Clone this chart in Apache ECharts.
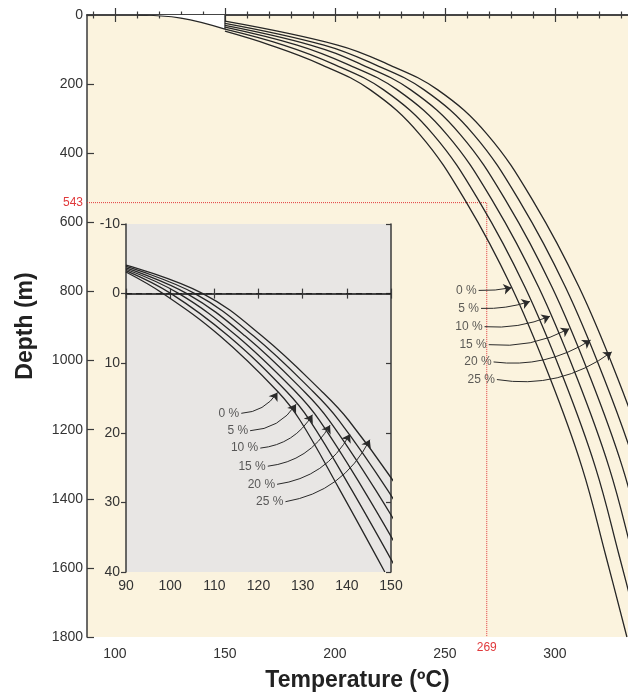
<!DOCTYPE html>
<html>
<head>
<meta charset="utf-8">
<script src="https://cdn.jsdelivr.net/npm/echarts@6/dist/echarts.min.js"></script>
<style>
  html, body { margin: 0; padding: 0; background: #fff; }
  #chart { width: 628px; height: 697px; }
</style>
</head>
<body>
<div id="chart"></div>
<script>
// ---- main plot: depth (m) vs temperature (ºC) ----
const mainDepth = [87, 142, 216, 346, 545, 788, 1050, 1309, 1567, 1800];
const mainStartDepth = [47, 41, 35, 30, 24, 18];   // where each curve leaves 150 ºC
const mainTemp = [
  [170.5, 193.2, 215.9, 238.6, 260.0, 280.3, 297.7, 312.3, 323.2, 332.7],
  [176.6, 199.3, 222.0, 244.7, 266.1, 286.4, 303.8, 318.4, 329.3, 338.8],
  [182.8, 205.5, 228.2, 250.9, 272.3, 292.6, 310.0, 324.6, 335.5, 345.0],
  [188.9, 211.6, 234.3, 257.0, 278.4, 298.7, 316.1, 330.7, 341.6, 351.1],
  [195.0, 217.7, 240.4, 263.1, 284.5, 304.8, 322.2, 336.8, 347.7, 357.2],
  [201.2, 223.9, 246.6, 269.3, 290.7, 311.0, 328.4, 343.0, 353.9, 363.4]
];
const gasLabels = ['0 %', '5 %', '10 %', '15 %', '20 %', '25 %'];
const surfaceT = [110, 130, 150];
const surfaceD = [0, 9, 41];
const capT = [150, 150];
const capD = [0, 41];
// leader lines: label end -> arrow tip
const mainLabelT = [265.3, 266.4, 268.0, 269.9, 272.1, 273.6];
const mainLabelD = [797, 849, 902, 954, 1004, 1055];
const mainArrowT = [280.3, 288.6, 297.7, 306.5, 316.2, 325.8];
const mainArrowD = [789, 829, 872, 908, 941, 975];
// marked point (dotted red guide)
const markT = 269;
const markD = 543;
const xMajor = [100, 150, 200, 250, 300];
const xMinor = [90, 110, 120, 130, 140, 160, 170, 180, 190, 210, 220, 230, 240, 260, 270, 280, 290, 310, 320, 330];

// ---- inset: depth (m) vs temperature (ºC), shallow part ----
const insetStartD = [-3.1, -3.3, -3.5, -3.7, -3.9, -4.1];   // at 90 ºC
const insetDepth = [0, 6.1, 14.1, 18.2, 28.2, 40];
const insetTemp = [
  [98.4, 111.3, 124.4, 129.4, 138.4, 148.6],
  [100.2, 113.2, 126.4, 131.6, 141.1, 151.6],
  [102.0, 115.1, 128.4, 133.8, 143.8, 154.6],
  [103.8, 117.0, 130.4, 136.0, 146.5, 157.6],
  [105.6, 118.9, 132.4, 138.2, 149.2, 160.6],
  [107.4, 120.8, 134.4, 140.4, 151.9, 163.6]
];
const insetLabelT = [116.1, 118.1, 120.4, 122.1, 124.2, 126.1];
const insetLabelD = [17.2, 19.7, 22.2, 24.8, 27.4, 29.9];
const insetArrowT = [124.3, 128.5, 132.2, 136.2, 140.7, 145.2];
const insetArrowD = [14.2, 15.9, 17.4, 18.9, 20.2, 21.0];
const zeroLineT = [90, 150];

const FONT = 'Liberation Sans, Arial, sans-serif';
const AXIS = '#3a3a3a';
const TXT = '#333';
const RED = '#e0393b';

const chart = echarts.init(document.getElementById('chart'));

function curveSeries(name, data, xi, yi) {
  return {
    name: name, type: 'line', xAxisIndex: xi, yAxisIndex: yi,
    data: data, smooth: 0.4, symbol: 'none', silent: true,
    lineStyle: { color: '#262626', width: 1.3 }, z: 3
  };
}

const series = [];

// main curves
mainTemp.forEach(function (row, i) {
  const pts = [[150, mainStartDepth[i]]];
  row.forEach(function (t, k) { pts.push([t, mainDepth[k]]); });
  series.push(curveSeries(gasLabels[i], pts, 0, 0));
});

// shallow surface line (white above it)
series.push({
  type: 'line', xAxisIndex: 0, yAxisIndex: 0, smooth: 0.4, symbol: 'none',
  data: surfaceT.map(function (t, k) { return [t, surfaceD[k]]; }),
  lineStyle: { color: '#262626', width: 1.2 },
  areaStyle: { color: '#ffffff', opacity: 1 }, z: 2
});
series.push({
  type: 'line', xAxisIndex: 0, yAxisIndex: 0, symbol: 'none',
  data: capT.map(function (t, k) { return [t, capD[k]]; }),
  lineStyle: { color: '#262626', width: 1.2 }, z: 3
});

// red dotted guides
series.push({
  type: 'line', xAxisIndex: 0, yAxisIndex: 0, symbol: 'none',
  data: [[87.3, markD], [markT, markD], [markT, 1800]],
  lineStyle: { color: RED, width: 1, type: 'dotted' }, z: 2
});

// main leader lines with arrows
series.push({
  type: 'lines', coordinateSystem: 'cartesian2d', xAxisIndex: 0, yAxisIndex: 0,
  symbol: ['none', 'arrow'], symbolSize: 8,
  lineStyle: { color: '#2a2a2a', width: 1, opacity: 1 },
  data: gasLabels.map(function (n, i) {
    return {
      coords: [[mainLabelT[i], mainLabelD[i]], [mainArrowT[i], mainArrowD[i]]],
      lineStyle: { curveness: -0.06 - 0.03 * i }
    };
  }), z: 4
});
series.push({
  type: 'scatter', xAxisIndex: 0, yAxisIndex: 0, symbolSize: 0,
  data: gasLabels.map(function (n, i) { return [mainLabelT[i], mainLabelD[i]]; }),
  label: {
    show: true, position: 'left', distance: 2, color: TXT, fontSize: 12, fontFamily: FONT,
    formatter: function (p) { return gasLabels[p.dataIndex]; }
  }, z: 4
});

// inset curves
insetTemp.forEach(function (row, i) {
  const pts = [[90, insetStartD[i]]];
  row.forEach(function (t, k) { pts.push([t, insetDepth[k]]); });
  series.push(curveSeries(gasLabels[i], pts, 5, 2));
});
series.push({
  type: 'line', xAxisIndex: 5, yAxisIndex: 2, symbol: 'none',
  data: zeroLineT.map(function (t) { return [t, 0]; }),
  lineStyle: { color: '#222', width: 1.2, type: [6, 4] }, z: 3
});
series.push({
  type: 'lines', coordinateSystem: 'cartesian2d', xAxisIndex: 5, yAxisIndex: 2,
  symbol: ['none', 'arrow'], symbolSize: 8,
  lineStyle: { color: '#2a2a2a', width: 1, opacity: 1 },
  data: gasLabels.map(function (n, i) {
    return {
      coords: [[insetLabelT[i], insetLabelD[i]], [insetArrowT[i], insetArrowD[i]]],
      lineStyle: { curveness: -0.25 }
    };
  }), z: 4
});
series.push({
  type: 'scatter', xAxisIndex: 5, yAxisIndex: 2, symbolSize: 0,
  data: gasLabels.map(function (n, i) { return [insetLabelT[i], insetLabelD[i]]; }),
  label: {
    show: true, position: 'left', distance: 2, color: TXT, fontSize: 12, fontFamily: FONT,
    formatter: function (p) { return gasLabels[p.dataIndex]; }
  }, z: 4
});

const plain = function (v) { return String(v); };
const axisLine = { show: true, lineStyle: { color: AXIS, width: 1.5 } };
const tickStyle = { color: AXIS, width: 1.2 };
const labelStyle = { color: TXT, fontSize: 14, fontFamily: FONT, formatter: plain };

const option = {
  animation: false,
  backgroundColor: '#ffffff',
  grid: [
    { left: 87, top: 15, width: 541, height: 626, show: true, backgroundColor: '#fbf3de', borderWidth: 0 },
    { left: 126, top: 224, width: 265, height: 348, show: true, backgroundColor: '#e8e6e4', borderWidth: 0 }
  ],
  xAxis: [
    { // 0 main bottom, majors + labels
      gridIndex: 0, type: 'value', position: 'bottom', min: 87.3, max: 333.2,
      axisLine: axisLine,
      axisTick: { inside: true, length: 7, customValues: xMajor, lineStyle: tickStyle },
      axisLabel: Object.assign({ customValues: xMajor, margin: 10 }, labelStyle),
      splitLine: { show: false },
      name: 'Temperature (ºC)', nameLocation: 'middle', nameGap: 32,
      nameTextStyle: { fontSize: 23, fontWeight: 'bold', color: '#222', fontFamily: FONT }
    },
    { // 1 main bottom minors
      gridIndex: 0, type: 'value', position: 'bottom', min: 87.3, max: 333.2,
      axisLine: { show: false },
      axisTick: { inside: true, length: 3.5, customValues: xMinor, lineStyle: tickStyle },
      axisLabel: { show: false }, splitLine: { show: false }
    },
    { // 2 main top majors
      gridIndex: 0, type: 'value', position: 'top', min: 87.3, max: 333.2,
      axisLine: axisLine,
      axisTick: { inside: true, length: 7, customValues: xMajor, lineStyle: tickStyle },
      axisLabel: { show: false }, splitLine: { show: false }
    },
    { // 3 main top minors
      gridIndex: 0, type: 'value', position: 'top', min: 87.3, max: 333.2,
      axisLine: { show: false },
      axisTick: { inside: true, length: 3.5, customValues: xMinor, lineStyle: tickStyle },
      axisLabel: { show: false }, splitLine: { show: false }
    },
    { // 4 red 269 label
      gridIndex: 0, type: 'value', position: 'bottom', min: 87.3, max: 333.2,
      axisLine: { show: false }, axisTick: { show: false }, splitLine: { show: false },
      axisLabel: { customValues: [markT], margin: 5, color: RED, fontSize: 12, fontFamily: FONT, formatter: plain }
    },
    { // 5 inset bottom
      gridIndex: 1, type: 'value', position: 'bottom', min: 90, max: 150, interval: 10,
      axisLine: axisLine,
      axisTick: { inside: true, length: 5, lineStyle: tickStyle },
      axisLabel: Object.assign({ margin: 7 }, labelStyle),
      splitLine: { show: false }
    },
    { // 6 inset top
      gridIndex: 1, type: 'value', position: 'top', min: 90, max: 150, interval: 10,
      axisLine: axisLine,
      axisTick: { inside: true, length: 5, lineStyle: tickStyle },
      axisLabel: { show: false }, splitLine: { show: false }
    }
  ],
  yAxis: [
    { // 0 main depth
      gridIndex: 0, type: 'value', position: 'left', inverse: true, min: 0, max: 1800, interval: 200,
      axisLine: axisLine,
      axisTick: { inside: true, length: 7, lineStyle: tickStyle },
      axisLabel: Object.assign({ margin: 4 }, labelStyle),
      splitLine: { show: false },
      name: 'Depth (m)', nameLocation: 'middle', nameGap: 50, nameRotate: 90,
      nameTextStyle: { fontSize: 23, fontWeight: 'bold', color: '#222', fontFamily: FONT }
    },
    { // 1 red 543 label
      gridIndex: 0, type: 'value', position: 'left', inverse: true, min: 0, max: 1800,
      axisLine: { show: false }, axisTick: { show: false }, splitLine: { show: false },
      axisLabel: { customValues: [markD], margin: 4, color: RED, fontSize: 12, fontFamily: FONT, formatter: plain }
    },
    { // 2 inset left
      gridIndex: 1, type: 'value', position: 'left', inverse: true, min: -10, max: 40, interval: 10,
      axisLine: axisLine,
      axisTick: { inside: false, length: 5, lineStyle: tickStyle },
      axisLabel: Object.assign({ margin: 6 }, labelStyle),
      splitLine: { show: false }
    },
    { // 3 inset right
      gridIndex: 1, type: 'value', position: 'right', inverse: true, min: -10, max: 40, interval: 10,
      axisLine: axisLine,
      axisTick: { inside: true, length: 5, lineStyle: tickStyle },
      axisLabel: { show: false }, splitLine: { show: false }
    }
  ],
  series: series
};

chart.setOption(option);
</script>
</body>
</html>
